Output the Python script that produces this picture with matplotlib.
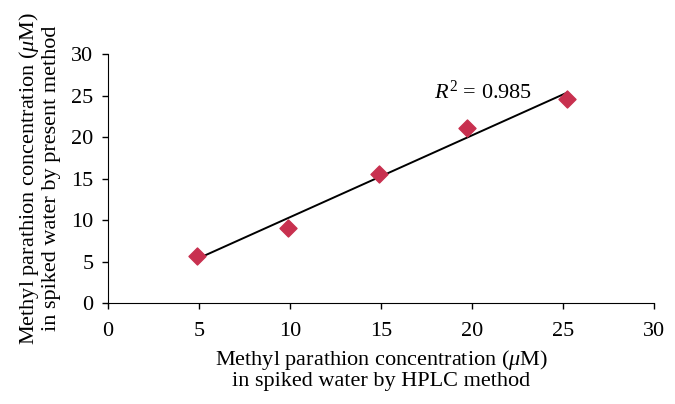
import numpy as np
import matplotlib.pyplot as plt

plt.rcParams['font.family'] = ['Liberation Serif', 'DejaVu Serif']
plt.rcParams['mathtext.fontset'] = 'custom'
plt.rcParams['mathtext.rm'] = 'Liberation Serif'
plt.rcParams['mathtext.it'] = 'Liberation Serif:italic'

# data
hplc = [4.9, 9.9, 14.9, 19.7, 25.2]
present = [5.7, 9.1, 15.5, 21.1, 24.6]
ticks = [0, 5, 10, 15, 20, 25, 30]

slope, intercept = np.polyfit(hplc, present, 1)
fit_x = np.array([min(hplc), max(hplc)])
fit_y = slope * fit_x + intercept

fig = plt.figure(figsize=(6.75, 4.04), dpi=100)
ax = fig.add_axes([0.16, 0.25, 0.809, 0.616])

ax.plot(fit_x, fit_y, color='black', lw=1.4, zorder=2)
ax.scatter(hplc, present, marker='D', s=75, color='#C8304F', zorder=3)

ax.set_xlim(0, 30)
ax.set_ylim(0, 30)
ax.set_xticks(ticks)
ax.set_yticks(ticks)
ax.tick_params(labelsize=16, direction='out', length=4.5, width=1)
ax.tick_params(axis='x', pad=9)
ax.tick_params(axis='y', pad=6)
ax.spines['top'].set_visible(False)
ax.spines['right'].set_visible(False)

ax.text(17.9, 24.6, r'$R^2$ = 0.985', fontsize=16)

ax.set_xlabel('Methyl parathion concentration ($\\mu$M)\nin spiked water by HPLC method',
              fontsize=16, linespacing=1.02, labelpad=5)
ax.set_ylabel('Methyl parathion concentration ($\\mu$M)\nin spiked water by present method',
              fontsize=16, linespacing=1.08, labelpad=7)

fig.savefig('out.png', dpi=100)
